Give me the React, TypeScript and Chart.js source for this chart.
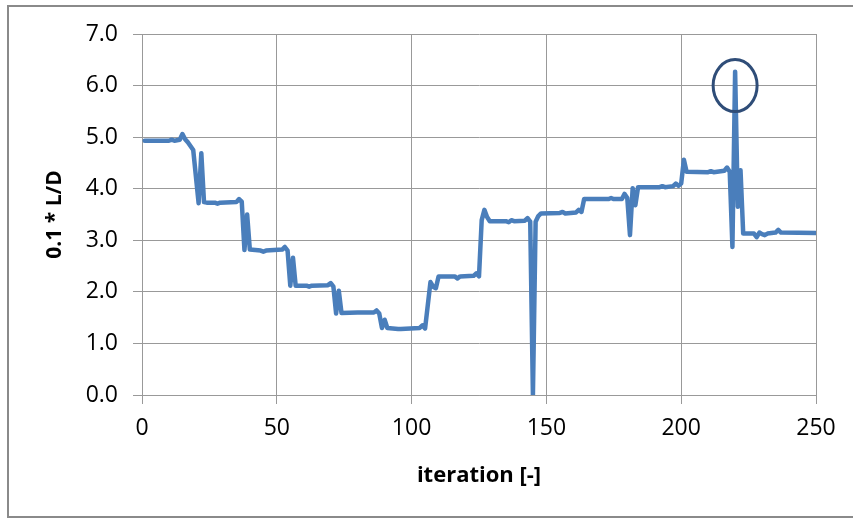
import React, { useEffect, useRef } from "react";
import { Chart, registerables } from "chart.js";

Chart.register(...registerables);

const iterX: number[] = [
  1, 10, 11, 12, 14, 15, 16, 17, 19, 21, 22, 23, 24, 27, 28, 29, 35, 36, 37, 38, 39, 40,
  44, 45, 46, 52, 53, 54, 55, 56, 57, 61, 62, 63, 69, 70, 71, 72, 73, 74, 80, 86, 87, 88,
  89, 90, 91, 95, 96, 103, 104, 105, 107, 108, 109, 110, 116, 117, 118, 123, 124, 125,
  126, 127, 128, 129, 135, 136, 137, 138, 142, 143, 144, 145, 146, 147, 148, 155, 156,
  157, 161, 162, 163, 164, 173, 174, 175, 178, 179, 180, 181, 182, 183, 184, 192, 193,
  194, 197, 198, 199, 200, 201, 202, 210, 211, 212, 216, 217, 218, 219, 220, 221, 222,
  223, 227, 228, 229, 230, 231, 232, 235, 236, 237, 250,
];

const ldValue: number[] = [
  4.93, 4.93, 4.95, 4.93, 4.95, 5.06, 4.96, 4.9, 4.75, 3.72, 4.69, 3.74, 3.73, 3.73, 3.71, 3.73, 3.74, 3.8, 3.75, 2.81, 3.5, 2.82,
  2.8, 2.78, 2.8, 2.82, 2.87, 2.8, 2.12, 2.66, 2.12, 2.12, 2.1, 2.12, 2.13, 2.17, 2.1, 1.58, 2.02, 1.59, 1.6, 1.6, 1.64, 1.58,
  1.3, 1.46, 1.3, 1.28, 1.28, 1.3, 1.35, 1.29, 2.19, 2.1, 2.07, 2.3, 2.3, 2.26, 2.3, 2.31, 2.36, 2.3,
  3.39, 3.59, 3.45, 3.37, 3.37, 3.35, 3.39, 3.37, 3.38, 3.43, 3.36, 0.0, 3.36, 3.47, 3.52, 3.53, 3.55,
  3.52, 3.54, 3.59, 3.55, 3.8, 3.8, 3.82, 3.8, 3.8, 3.9, 3.82, 3.1, 4.01, 3.68, 4.03, 4.03, 4.05,
  4.03, 4.05, 4.1, 4.06, 4.1, 4.56, 4.33, 4.32, 4.34, 4.32, 4.35, 4.41, 4.33, 2.87, 6.27, 3.65, 4.36,
  3.13, 3.13, 3.06, 3.15, 3.12, 3.1, 3.13, 3.15, 3.2, 3.15, 3.14,
];

const xTickStep = 50;
const yTickStep = 1;
const xTitle = "iteration [-]";
const yTitle = "0.1 * L/D";
const markedPoint = { x: 220, y: 6.0 };

const GRID = "#999999";
const FONT = "'Open Sans', 'Noto Sans', sans-serif";

export default function App() {
  const ref = useRef<HTMLCanvasElement | null>(null);

  useEffect(() => {
    if (!ref.current) return;
    const framePlugin = {
      id: "frame",
      beforeDraw(chart: any) {
        const ctx = chart.ctx;
        ctx.save();
        ctx.fillStyle = "#ffffff";
        ctx.fillRect(0, 0, chart.width, chart.height);
        ctx.strokeStyle = "#8a8a8a";
        ctx.lineWidth = 2;
        ctx.strokeRect(8, 6, 900, 511);
        ctx.restore();
      },
      afterDatasetsDraw(chart: any) {
        const ctx = chart.ctx;
        const px = chart.scales.x.getPixelForValue(markedPoint.x);
        const py = chart.scales.y.getPixelForValue(markedPoint.y);
        ctx.save();
        ctx.strokeStyle = "#2f4d78";
        ctx.lineWidth = 3;
        ctx.beginPath();
        ctx.ellipse(px, py, 22, 26, 0, 0, Math.PI * 2);
        ctx.stroke();
        ctx.restore();
      },
    };

    const chart = new Chart(ref.current, {
      type: "line",
      data: {
        datasets: [
          {
            data: iterX.map((x, i) => ({ x, y: ldValue[i] })),
            borderColor: "#4a7ebb",
            borderWidth: 4.5,
            borderJoinStyle: "round",
            borderCapStyle: "round",
            pointRadius: 0,
            tension: 0,
            fill: false,
          },
        ],
      },
      options: {
        animation: false,
        responsive: false,
        layout: { padding: { top: 34, right: 37, left: 0, bottom: 0 } },
        plugins: { legend: { display: false }, tooltip: { enabled: false } },
        scales: {
          x: {
            type: "linear",
            min: 0,
            max: 250,
            afterFit(scale: any) {
              scale.height = 123;
            },
            ticks: {
              stepSize: xTickStep,
              color: "#000",
              font: { family: FONT, size: 23 },
              padding: 11,
              maxRotation: 0,
            },
            grid: { color: GRID, lineWidth: 1, tickLength: 9 },
            border: { color: GRID, width: 1 },
            title: {
              display: true,
              text: xTitle,
              color: "#000",
              font: { family: FONT, size: 22, weight: "bold" },
              padding: { top: 0, bottom: 29 },
            },
          },
          y: {
            min: 0,
            max: 7,
            afterFit(scale: any) {
              scale.width = 142;
            },
            ticks: {
              stepSize: yTickStep,
              color: "#000",
              font: { family: FONT, size: 23 },
              padding: 15,
              callback: (v: any) => Number(v).toFixed(1),
            },
            grid: { color: GRID, lineWidth: 1, tickLength: 9 },
            border: { color: GRID, width: 1 },
            title: {
              display: true,
              text: yTitle,
              color: "#000",
              font: { family: FONT, size: 21, weight: "bold" },
              padding: { top: 42, bottom: 0 },
            },
          },
        },
      },
      plugins: [framePlugin],
    });
    return () => chart.destroy();
  }, []);

  return (
    <div style={{ position: "fixed", left: 0, top: 0, width: 853, height: 518, background: "#fff" }}>
      <canvas ref={ref} width={853} height={518} style={{ display: "block" }} />
    </div>
  );
}
